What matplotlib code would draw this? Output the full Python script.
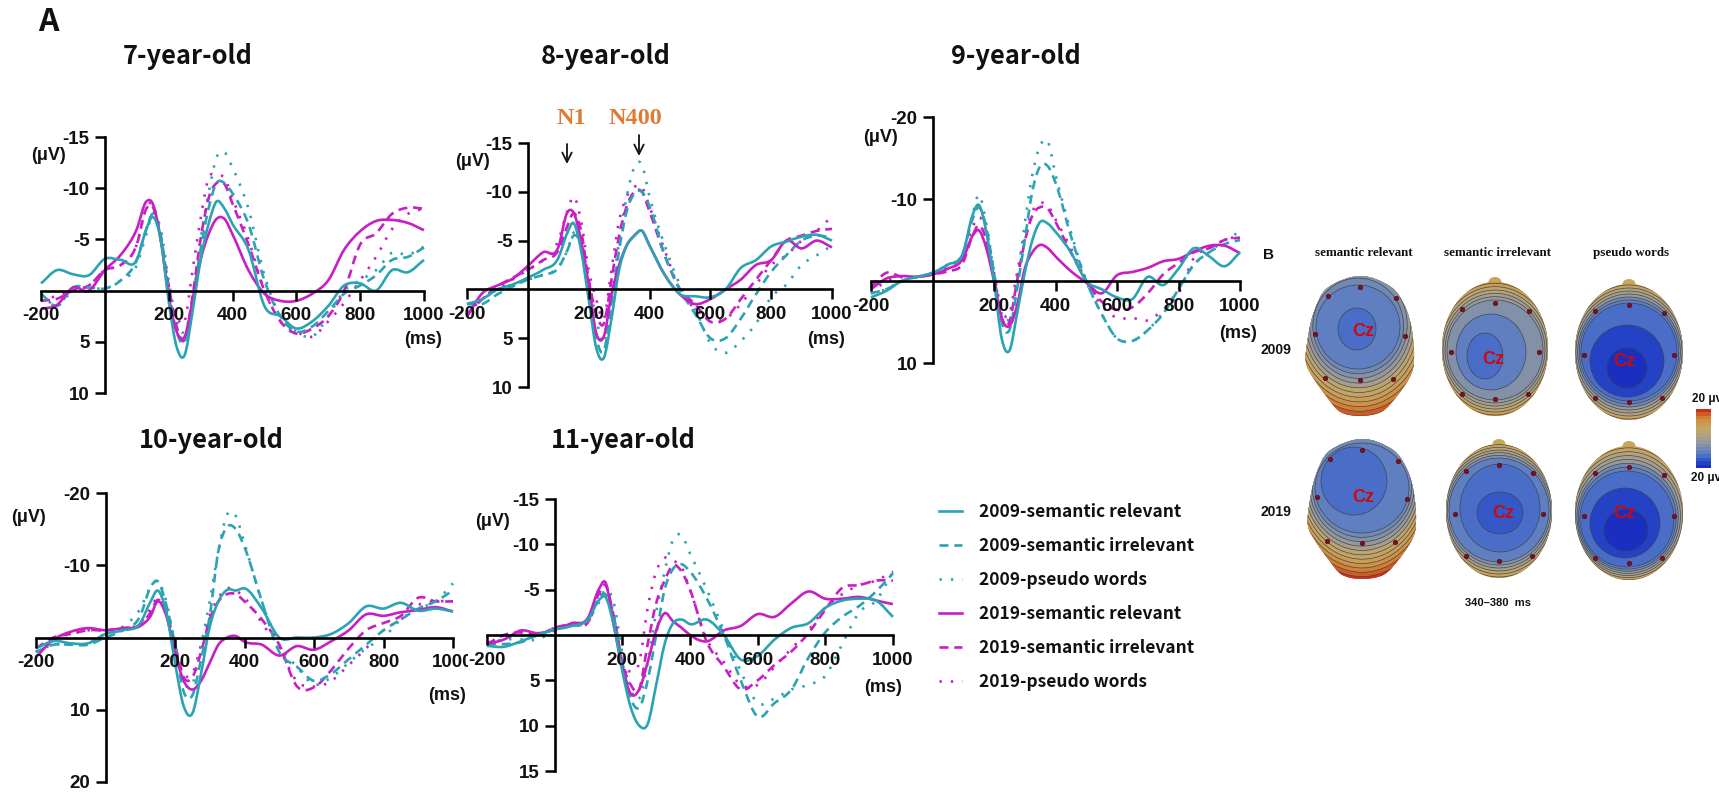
import numpy as np
import matplotlib
matplotlib.use("Agg")
import matplotlib.pyplot as plt
from matplotlib.colors import ListedColormap
from matplotlib.lines import Line2D
from matplotlib.patches import Ellipse, PathPatch
from matplotlib.path import Path

plt.rcParams["axes.unicode_minus"] = False

W, H = 1719, 792

# latency grid (ms), denser around the N1 / P2 / N400 peaks
ms = [-200, -150, -100, -50, 0,
      50, 100, 130, 150, 175,
      200, 225, 250, 275, 300,
      325, 350, 375, 400, 450,
      500, 550, 600, 650, 700,
      750, 800, 850, 900, 950,
      1000]

# amplitudes in uV (negative is drawn upwards)
y7_sr09 = [-0.7, -2, -1.6, -1.5, -3.1,
           -3, -3, -6, -7.2, -5,
           1, 5.5, 6.3, 2, -3,
           -6.5, -8.7, -8, -6.5, -4,
           1.5, 2.5, 3.7, 3, 1.5,
           -0.5, -0.7, 0, -2, -1.8,
           -3]
y7_si09 = [0.3, 1.5, -0.3, -0.3, -0.2,
           -1, -3, -6, -7.5, -5.5,
           0, 4, 5, 1, -4,
           -8, -10.5, -10.5, -9.5, -6.5,
           -1, 2.5, 4, 3.5, 2,
           0.3, -0.5, -1.5, -3, -3.3,
           -4.2]
y7_pw09 = [0.3, 1.5, 0, -0.3, -0.2,
           -1, -2.5, -5.5, -7.5, -6,
           -1, 3, 4, 1, -5,
           -9.5, -13, -13.5, -12, -8,
           -1.5, 2.5, 4, 4.5, 2.5,
           0, -1, -2, -3.7, -3.5,
           -4.3]
y7_sr19 = [1.8, 1.4, -0.3, 0, -2,
           -3.5, -6, -8.7, -8.5, -5,
           0.5, 4, 4.5, 1, -3,
           -5.5, -7, -7, -5.5, -2,
           0.3, 1, 1, 0.3, -1,
           -4, -5.8, -6.8, -6.9, -6.6,
           -5.9]
y7_si19 = [1, 0.8, 0, -0.5, -2,
           -2.5, -4.5, -8, -8.2, -5,
           -0.5, 3.5, 4.8, 0.5, -5,
           -9, -10.5, -10.4, -8.5, -4.5,
           0, 3, 4.2, 3.7, 2.5,
           0, -4.5, -5.6, -7.5, -8.1,
           -8]
y7_pw19 = [1, 0.5, 0, -0.5, -2,
           -2.5, -4.5, -8, -8.5, -5,
           0, 2.5, 3, -2, -7,
           -11, -11.2, -11, -9, -5,
           0, 3, 4, 4.5, 3,
           1.2, -1, -3.3, -6, -7.5,
           -8]

y8_sr09 = [1.5, 1, 0, -0.5, -1.2,
           -2, -3.2, -5.8, -6.8, -4,
           1, 6, 7, 3, -2,
           -4.5, -5.5, -6, -4.5, -1.5,
           0.5, 0.7, 0.8, 0, -2.2,
           -3, -4.4, -4.9, -5.4, -5.6,
           -5]
y8_si09 = [1.5, 1.5, 0.5, -0.3, -1,
           -1.5, -2.2, -4, -5.5, -4.5,
           0, 5, 6.3, 1.5, -4,
           -8, -9.8, -10, -8.5, -3.5,
           0, 2.5, 5, 5, 3,
           0.5, -1.8, -3.5, -5, -5.5,
           -5.3]
y8_pw09 = [1.5, 1, 0, -0.5, -1,
           -1.5, -2.3, -4, -5.8, -5,
           -1, 3, 5.5, 1, -5,
           -9.5, -12.5, -12.8, -9.5, -4.5,
           -0.5, 2, 5.5, 6.5, 5.3,
           3.5, 0.8, -0.5, -2.5, -3.5,
           -4.5]
y8_sr19 = [2.8, 0.4, -0.4, -1.1, -2.4,
           -3.8, -4.3, -7.9, -7.9, -5,
           -0.5, 4.5, 4.8, 0.5, -2.5,
           -4.5, -5.5, -6, -4.5, -1.5,
           0.5, 1.5, 1, 0, -1,
           -2.5, -3, -5, -4.2, -5,
           -4.3]
y8_si19 = [2.5, 1, -0.3, -1.2, -2,
           -3, -4, -6.5, -7.8, -6,
           -1, 2.5, 3.5, -1, -5.5,
           -8.5, -10, -10, -8, -3.5,
           0, 1.5, 3.3, 3, 1,
           -1, -3, -5, -5.5, -6,
           -6.2]
y8_pw19 = [2.5, 1, 0, -1, -2,
           -3, -5, -8, -9.5, -7,
           -2, 1, 3, -2, -7,
           -9.5, -10.5, -10.5, -8.5, -4,
           0, 2, 3, 3, 1.5,
           -0.5, -2.5, -3.5, -5, -6,
           -7.5]

y9_sr09 = [2, 1.2, 0, -0.5, -1,
           -2, -3.5, -8, -9.3, -6,
           0, 7, 8.5, 4, -1,
           -5, -7.2, -7, -6, -3.5,
           0, 1, 2, 2.2, -0.5,
           0.5, -1.5, -4, -3, -1.8,
           -3.5]
y9_si09 = [1.5, 1, 0, -0.5, -1,
           -2, -3.5, -7.5, -9, -6.5,
           -1, 5, 6, 1, -5,
           -11, -14, -14, -12, -5.5,
           0, 4, 7, 7.3, 6,
           4, 1, -2, -3.5, -4.5,
           -5]
y9_pw09 = [1.5, 1, 0, -0.5, -1,
           -2, -3.5, -8, -10.5, -7,
           -1, 4, 4.5, 0, -7,
           -13, -16.5, -17, -13, -6,
           0, 4, 7, 7.3, 6,
           3.8, 1, -2, -3.5, -5,
           -6]
y9_sr19 = [1, -0.3, -0.6, -0.5, -0.8,
           -1.5, -2.8, -5.5, -6.2, -4,
           0, 4.5, 5.5, 3, -1.5,
           -3.5, -4.4, -4, -3, -1.2,
           0.2, 1.5, -0.7, -1.1, -1.6,
           -2.4, -2.7, -3.6, -4.3, -4.3,
           -3.4]
y9_si19 = [0.8, -1, -0.5, -0.5, -0.8,
           -1.2, -2.3, -5.5, -6.8, -5,
           -0.5, 4.5, 5, 0, -4.8,
           -8, -9, -8.8, -7.2, -3.5,
           0, 2.5, 3.5, 3.2, 1.5,
           -0.8, -2.2, -3.5, -4, -5,
           -5.3]
y9_pw19 = [1.5, 0, -0.5, -0.5, -1,
           -1.8, -3, -6.5, -7.8, -6,
           -1, 3.5, 4, -1, -5.5,
           -8.5, -9.5, -9.2, -7.5, -4,
           0, 3, 4.5, 4.5, 4.8,
           3.5, 1.5, -2.8, -4, -5,
           -5.5]

y10_sr09 = [1.5, 0.5, 0.8, 0.8, -0.5,
            -1, -2, -5, -6.5, -3.5,
            3.5, 9.5, 10.5, 5, -1.5,
            -5, -6.6, -6.5, -6.8, -4,
            0, 0, 0, -0.5, -2,
            -4.3, -4, -4.8, -3.7, -4,
            -3.6]
y10_si09 = [2, 1, 1, 1, 0,
            -1, -3, -7, -7.8, -4.5,
            1, 7.5, 8, 3, -3,
            -12, -15.3, -15, -12.5, -5,
            2, 4, 6, 5, 3,
            1, -1, -2.5, -4, -5,
            -6.5]
y10_pw09 = [2, 1, 1, 0.8, -0.5,
            -1.5, -4, -7, -7.8, -5,
            1, 6, 6.5, 1, -5,
            -12, -17, -16.8, -13, -5,
            1, 4, 6.5, 5.5, 3.5,
            1.5, 0, -2.5, -4, -5,
            -7.5]
y10_sr19 = [2.7, 0.3, -0.8, -1.3, -1,
            -1.3, -1.6, -3, -5, -3,
            2, 6, 7.2, 6, 3.5,
            1, 0, -0.2, 0.6, 1,
            2.5, 1.2, 1.7, 0.5, -1,
            -3.2, -3, -3.5, -3.8, -4.2,
            -3.6]
y10_si19 = [1.5, 0, -0.5, -1, -1,
            -1.3, -1.8, -3.5, -5.2, -3.5,
            1, 5.5, 5.5, 2, -2.5,
            -5, -6, -6, -5, -2.5,
            1, 6.7, 6.9, 4.5, 1.5,
            -1, -2, -3, -5.5, -5,
            -5]
y10_pw19 = [2, 0.3, -0.5, -1, -1,
            -1.3, -2, -4, -5.5, -3.5,
            1.5, 5, 5, 1, -3,
            -5.5, -6.8, -6.5, -5.5, -2,
            1.5, 6, 6.8, 6, 3.8,
            1.5, -1, -2.5, -4.5, -5,
            -5]

y11_sr09 = [1.2, 1.3, 0.7, 0, -0.6,
            -1, -1.8, -3.8, -4.2, -1,
            4, 8, 10, 9.8, 5.5,
            1, -1.3, -1.7, -1.2, -1.7,
            0, 2.7, 2.3, 0.5, -0.8,
            -1.3, -3, -3.8, -4, -3.8,
            -2]
y11_si09 = [1, 1, 0.8, 0, -0.6,
            -1, -1.7, -4, -4.5, -2,
            3, 7, 8, 5, 0,
            -5, -7.3, -7.8, -7, -4,
            0, 5, 9, 7.5, 6,
            2.5, -0.3, -2, -3.2, -4.8,
            -6.8]
y11_pw09 = [1, 0.5, 0.5, 0.5, -0.5,
            -1, -1.8, -3.5, -5, -3.5,
            2, 6, 7, 3, -2.5,
            -7, -10.5, -11, -9, -5,
            -0.5, 4, 7.5, 7, 6,
            5.5, 4.5, 1, -2.5, -3.8,
            -7]
y11_sr19 = [1, 0.5, -0.5, -0.2, -0.6,
            -1.3, -2, -5, -5.8, -1,
            3.5, 6.5, 6, 3, -0.5,
            -2.4, -1.5, -0.8, 0, 0.7,
            -0.5, -1, -2.3, -2, -3.5,
            -4.8, -4, -4, -4.2, -3.8,
            -3.4]
y11_si19 = [1, 0, -0.3, 0, -0.8,
            -1.2, -1.5, -4.5, -5.5, -2,
            3, 5.5, 6, 1, -3.5,
            -6, -7.7, -7, -5, 0.8,
            3.5, 6, 5, 3.3, 1.8,
            -0.2, -2.8, -5.2, -5.5, -6,
            -6]
y11_pw19 = [0.8, 0.5, -0.3, 0, -0.8,
            -1.2, -1.5, -4, -5.5, -2,
            3, 4, 3, -3, -7,
            -8.5, -8.2, -7.5, -5, 0.5,
            3, 5.5, 5.5, 3.5, 1.5,
            -0.5, -3, -4.5, -5.5, -6,
            -7]

TEAL = "#2ca3b3"
MAGENTA = "#c81fc4"
DASH = (0, (3.4, 2.2))
DOT = (0, (0.9, 3.4))
series_labels = ["2009-semantic relevant", "2009-semantic irrelevant", "2009-pseudo words",
                 "2019-semantic relevant", "2019-semantic irrelevant", "2019-pseudo words"]
series_colors = [TEAL, TEAL, TEAL, MAGENTA, MAGENTA, MAGENTA]
series_styles = ["-", DASH, DOT, "-", DASH, DOT]

SANS = "Liberation Sans"
TITLE = "Noto Sans CJK KR"
SERIF = "Liberation Serif"

# pixel box: x of -200, x of 1000, y of top tick, y of bottom tick
panels = [
    ("7-year-old", (188, 57), (41, 424, 137, 393), (-15, 10), [-15, -10, -5, 5, 10],
     (48, 155), (423, 340), [y7_sr09, y7_si09, y7_pw09, y7_sr19, y7_si19, y7_pw19]),
    ("8-year-old", (606, 57), (467, 832, 143, 387), (-15, 10), [-15, -10, -5, 5, 10],
     (472, 162), (826, 339), [y8_sr09, y8_si09, y8_pw09, y8_sr19, y8_si19, y8_pw19]),
    ("9-year-old", (1016, 57), (871, 1240, 117, 363), (-20, 10), [-20, -10, 10],
     (881, 137), (1238, 333), [y9_sr09, y9_si09, y9_pw09, y9_sr19, y9_si19, y9_pw19]),
    ("10-year-old", (211, 441), (36, 453, 493, 782), (-20, 20), [-20, -10, 10, 20],
     (28, 517), (447, 696), [y10_sr09, y10_si09, y10_pw09, y10_sr19, y10_si19, y10_pw19]),
    ("11-year-old", (623, 441), (487, 893, 499, 771), (-15, 15), [-15, -10, -5, 5, 10, 15],
     (493, 522), (883, 688), [y11_sr09, y11_si09, y11_pw09, y11_sr19, y11_si19, y11_pw19]),
]

fig = plt.figure(figsize=(W / 100, H / 100), dpi=100, facecolor="white")

# full-figure layer in reference pixels, for the free text and part B
over = fig.add_axes([0, 0, 1, 1], zorder=5)
over.set_xlim(0, W)
over.set_ylim(H, 0)
over.axis("off")
over.patch.set_alpha(0)


def label(x, y, s, size=13, family=SANS, weight="bold", color="#111111", ha="center"):
    over.text(x, y, s, fontsize=size, family=family, fontweight=weight, color=color, ha=ha, va="center")


def smooth_curve(xs, ys):
    # bezier path through the read values, so the peaks come out round
    xs, ys = np.array(xs, float), np.array(ys, float)
    m = np.gradient(ys, xs)
    verts, codes = [(xs[0], ys[0])], [Path.MOVETO]
    for i in range(len(xs) - 1):
        h = xs[i + 1] - xs[i]
        verts += [(xs[i] + h / 3, ys[i] + m[i] * h / 3),
                  (xs[i + 1] - h / 3, ys[i + 1] - m[i + 1] * h / 3),
                  (xs[i + 1], ys[i + 1])]
        codes += [Path.CURVE4] * 3
    return Path(verts, codes)


def closed_outline(points):
    pts = np.array(points, float)
    n = len(pts)
    verts, codes = [pts[0]], [Path.MOVETO]
    for i in range(n):
        p0, p1, p2, p3 = pts[i - 1], pts[i], pts[(i + 1) % n], pts[(i + 2) % n]
        verts += [p1 + (p2 - p0) / 6, p2 - (p3 - p1) / 6, p2]
        codes += [Path.CURVE4] * 3
    return Path(verts, codes)


for name, title_xy, box, yr, yt, uv_xy, ms_xy, curves in panels:
    x0, x1, ytop, ybot = box
    ax = fig.add_axes([x0 / W, 1 - ybot / H, (x1 - x0) / W, (ybot - ytop) / H])
    ax.patch.set_alpha(0)
    ax.set_xlim(-200, 1000)
    ax.set_ylim(yr[1], yr[0])
    for i in [5, 2, 4, 1, 3, 0]:
        ax.add_patch(PathPatch(smooth_curve(ms, curves[i]), facecolor="none", edgecolor=series_colors[i],
                               linestyle=series_styles[i], lw=1.9, clip_on=False, joinstyle="round"))
    for s in ["top", "right"]:
        ax.spines[s].set_visible(False)
    ax.spines["left"].set_position(("data", 0))
    ax.spines["bottom"].set_position(("data", 0))
    ax.spines["left"].set_linewidth(1.9)
    ax.spines["bottom"].set_linewidth(1.9)
    ax.set_xticks([-200, 200, 400, 600, 800, 1000])
    ax.set_yticks(yt)
    ax.tick_params(axis="both", length=7, width=1.8, pad=4, labelsize=13.5, labelcolor="#111111")
    ax.tick_params(axis="x", pad=5)
    for t in ax.get_xticklabels() + ax.get_yticklabels():
        t.set_family(SANS)
        t.set_fontweight("bold")
    if name == "11-year-old":
        ax.get_xticklabels()[0].set_bbox(dict(facecolor="white", edgecolor="none", pad=0.5))
    label(title_xy[0], title_xy[1], name, size=18.3, family=TITLE)
    label(uv_xy[0], uv_xy[1], "(μV)", size=13)
    label(ms_xy[0], ms_xy[1], "(ms)", size=13)

label(48, 22, "A", size=23, family=TITLE)
label(571, 118, "N1", size=17.5, family=SERIF, color="#e07b35")
label(635, 118, "N400", size=17.5, family=SERIF, color="#e07b35")
for ax_x, y_a, y_b in [(567, 144, 164), (639, 135, 156)]:
    over.annotate("", xy=(ax_x, y_b), xytext=(ax_x, y_a),
                  arrowprops=dict(arrowstyle="->", color="#111111", lw=1.3, mutation_scale=17,
                                  shrinkA=0, shrinkB=0))

handles = [Line2D([], [], color=c, linestyle=s, lw=1.9) for c, s in zip(series_colors, series_styles)]
fig.legend(handles, series_labels, loc="center left", bbox_to_anchor=(934 / W, 1 - 597 / H),
           frameon=False, ncol=1, handlelength=1.3, handletextpad=1.0, labelspacing=0.92,
           borderaxespad=0, borderpad=0.3,
           prop={"family": TITLE, "weight": "bold", "size": 12.5}, labelcolor="#111111")

# part B: voltage maps, drawn as nested contour ellipses
palette = ["#1a2fc0", "#2442c6", "#3558c8", "#4a6ec8", "#5f7fc0", "#7088b4", "#8290a8",
           "#97989a", "#a69e8c", "#b3a37c", "#bda56e", "#c5a463", "#ca9d55", "#ce9146",
           "#d07f34", "#cf5c24", "#c8301a"]

# head box, inner contours (innermost first), last band ellipse, band count, first/last colour
heads = [
    ((1360, 346, 54, 70), [(1357, 329, 19, 21), (1358, 327, 42, 42)], (1360, 316, 76, 100), 10, 3, 15, False),
    ((1495, 349, 53, 67), [(1485, 356, 18, 23), (1491, 352, 35, 38), (1495, 350, 48, 50)], (1495, 349, 60, 69), 6, 3, 13, True),
    ((1629, 352, 54, 68), [(1627, 368, 20, 20), (1627, 361, 37, 36), (1629, 352, 48, 49)], (1629, 352, 60, 70), 7, 0, 12, True),
    ((1362, 509, 54, 70), [(1354, 481, 33, 34), (1362, 488, 47, 45)], (1362, 481, 76, 100), 11, 3, 16, False),
    ((1499, 511, 53, 67), [(1500, 513, 23, 21), (1500, 508, 40, 44), (1499, 510, 50, 52)], (1499, 511, 60, 69), 6, 2, 12, True),
    ((1629, 513, 54, 67), [(1626, 530, 22, 21), (1625, 523, 35, 35), (1627, 519, 47, 48)], (1629, 513, 60, 69), 7, 0, 12, True),
]
# silhouette of the first-column heads, relative to the head box
outline_a = [(0, -1), (-0.6, -0.83), (-0.86, -0.47), (-0.98, -0.04), (-1, 0.24), (-0.86, 0.46),
             (-0.62, 0.72), (-0.37, 0.94), (0, 1), (0.4, 0.94), (0.68, 0.72), (0.93, 0.43),
             (1, 0.19), (0.96, -0.23), (0.83, -0.57), (0.56, -0.85)]
elec_a = [(0, -0.85), (-0.6, -0.72), (0.67, -0.68), (-0.83, -0.17), (0.83, -0.15),
          (-0.65, 0.45), (0, 0.48), (0.62, 0.47)]
elec_b = [(0, -0.69), (-0.63, -0.6), (0.65, -0.57), (-0.83, 0.04), (0.83, 0.04),
          (-0.63, 0.67), (0, 0.74), (0.62, 0.67)]
cz_text = [(1363, 331), (1493, 359), (1624, 361), (1363, 497), (1503, 513), (1624, 513)]

for head, inner, outer, n_bands, c0, c1, nose in heads:
    hx, hy, hrx, hry = head
    if nose:
        over.add_patch(Ellipse((hx, hy - hry), 13, 10, facecolor="#c9a45c", edgecolor="none"))
        clip = Ellipse((hx, hy), 2 * hrx, 2 * hry, facecolor="none", edgecolor="none")
    else:
        clip = PathPatch(closed_outline([(hx + a * hrx, hy + b * hry) for a, b in outline_a]),
                         facecolor="none", edgecolor="none")
    over.add_patch(clip)
    bands = []
    ix, iy, irx, iry = inner[-1]
    for t in np.linspace(0, 1, n_bands + 1)[1:]:
        bands.append((ix + t * (outer[0] - ix), iy + t * (outer[1] - iy),
                      irx + t * (outer[2] - irx), iry + t * (outer[3] - iry)))
    levels = list(inner) + bands
    idx = np.round(np.linspace(c0, c1, len(levels))).astype(int)
    back = Ellipse((hx, hy), 2 * hrx + 4, 2 * hry + 4, facecolor=palette[idx[-1]], edgecolor="none")
    over.add_patch(back)
    back.set_clip_path(clip)
    for (ex, ey, erx, ery), k in zip(levels[::-1], idx[::-1]):
        e = Ellipse((ex, ey), 2 * erx, 2 * ery, facecolor=palette[k], edgecolor="#3c4048", lw=0.45)
        over.add_patch(e)
        e.set_clip_path(clip)
    for dx, dy in (elec_b if nose else elec_a):
        over.plot(hx + dx * hrx, hy + dy * hry, "o", ms=3.2, mfc="#7a1020", mec="#5a0c18", mew=0.5)

for cx, cy in cz_text:
    label(cx, cy, "Cz", size=13, color="#cc0a0a")

for x, s in [(1364, "semantic relevant"), (1497, "semantic irrelevant"), (1631, "pseudo words")]:
    label(x, 253, s, size=9.4, family=SERIF)
label(1269, 255, "B", size=11)
label(1276, 350, "2009", size=10)
label(1276, 512, "2019", size=10)
label(1498, 603, "340–380  ms", size=8)

over.imshow(np.arange(len(palette))[::-1, None], cmap=ListedColormap(palette), aspect="auto",
            extent=(1696, 1711, 468, 409), interpolation="nearest", zorder=2)
over.set_xlim(0, W)
over.set_ylim(H, 0)
label(1692, 399, "20 μv", size=8.5, ha="left")
label(1691, 478, "20 μv", size=8.5, ha="left")

fig.savefig("out.png", dpi=100, facecolor="white")
